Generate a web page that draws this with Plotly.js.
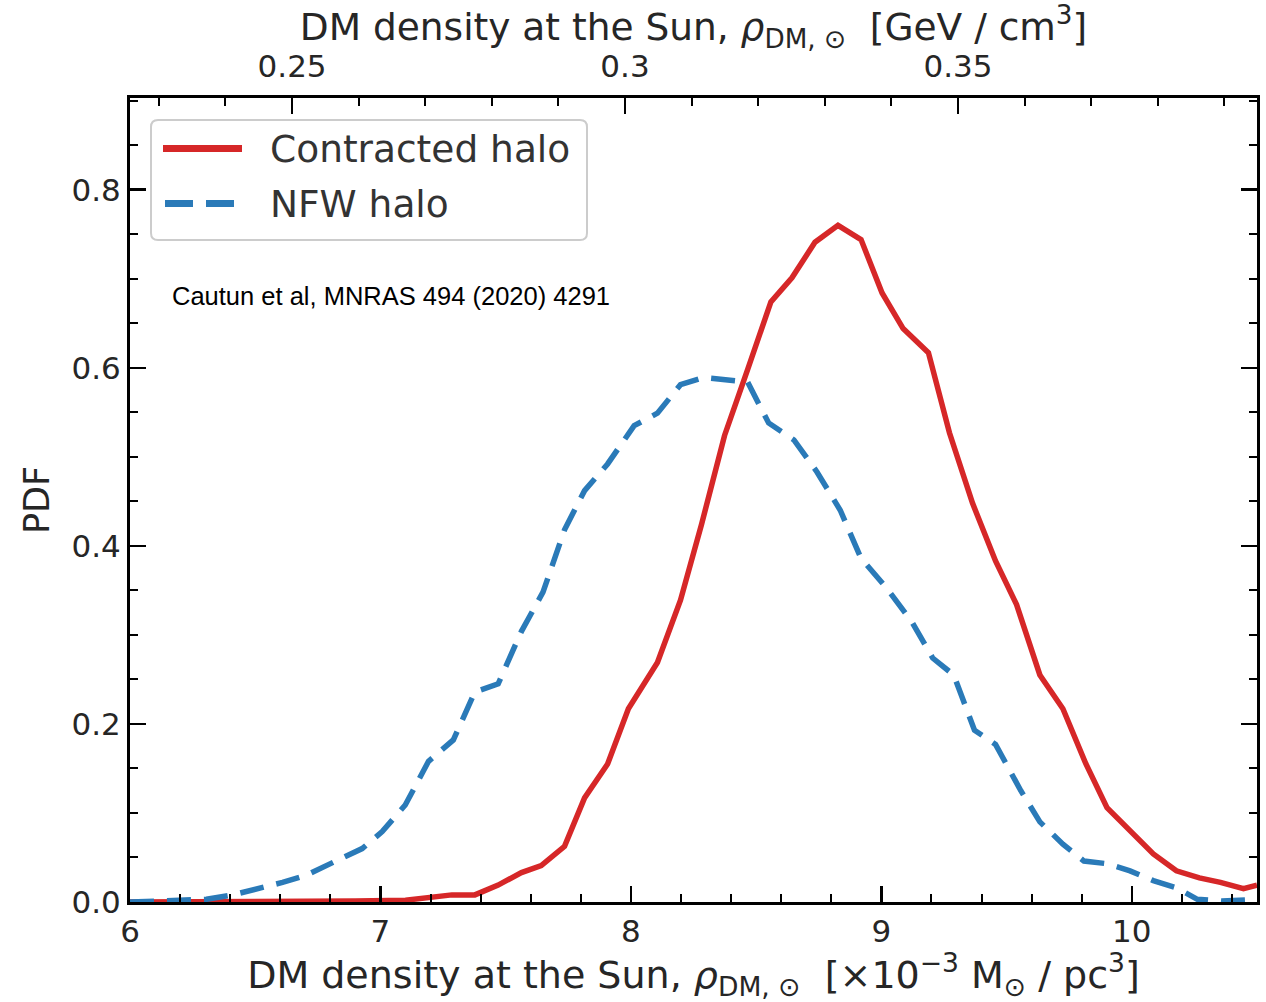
<!DOCTYPE html>
<html>
<head>
<meta charset="utf-8">
<script src="https://cdn.plot.ly/plotly-3.0.1.min.js"></script>
<style>html,body{margin:0;padding:0;background:#fff;}#chart{width:1266px;height:1002px;}</style>
</head>
<body>
<div id="chart"></div>
<script>
// ---- data ----
var contractedX = [6.00, 6.50, 6.90, 7.10, 7.20, 7.285, 7.377, 7.47, 7.563, 7.642, 7.735, 7.815, 7.907, 7.99, 8.106, 8.198, 8.282, 8.374, 8.466, 8.559, 8.643, 8.735, 8.827, 8.919, 9.003, 9.087, 9.188, 9.272, 9.364, 9.456, 9.54, 9.633, 9.725, 9.817, 9.901, 9.993, 10.086, 10.178, 10.27, 10.354, 10.446, 10.5];
var contractedPdf = [0.000, 0.000, 0.001, 0.002, 0.005, 0.008, 0.008, 0.019, 0.033, 0.041, 0.0625, 0.117, 0.155, 0.217, 0.269, 0.339, 0.424, 0.524, 0.598, 0.674, 0.701, 0.741, 0.760, 0.744, 0.684, 0.644, 0.617, 0.527, 0.448, 0.383, 0.334, 0.255, 0.217, 0.155, 0.106, 0.081, 0.054, 0.035, 0.027, 0.022, 0.015, 0.019];

var nfwX = [6.0, 6.2, 6.305, 6.41, 6.503, 6.609, 6.702, 6.795, 6.927, 7.007, 7.099, 7.192, 7.291, 7.377, 7.47, 7.563, 7.649, 7.735, 7.815, 7.907, 8.013, 8.106, 8.198, 8.29, 8.383, 8.466, 8.55, 8.651, 8.743, 8.836, 8.919, 9.02, 9.121, 9.205, 9.289, 9.372, 9.456, 9.557, 9.633, 9.725, 9.809, 9.901, 9.993, 10.086, 10.178, 10.262, 10.36, 10.5];
var nfwPdf = [0.000, 0.001, 0.003, 0.008, 0.014, 0.022, 0.030, 0.043, 0.060, 0.079, 0.109, 0.158, 0.182, 0.236, 0.245, 0.304, 0.348, 0.418, 0.462, 0.492, 0.535, 0.549, 0.581, 0.589, 0.587, 0.584, 0.538, 0.519, 0.483, 0.440, 0.386, 0.353, 0.315, 0.274, 0.255, 0.193, 0.177, 0.125, 0.090, 0.065, 0.046, 0.043, 0.035, 0.024, 0.016, 0.003, 0.001, 0.003];

var seriesNames = ['Contracted halo', 'NFW halo'];
var bottomTickVals = [6, 7, 8, 9, 10];
var bottomTickText = ['6', '7', '8', '9', '10'];
var topTickVals = [0.25, 0.3, 0.35];
var topTickText = ['0.25', '0.3', '0.35'];
var yTickVals = [0.0, 0.2, 0.4, 0.6, 0.8];
var yTickText = ['0.0', '0.2', '0.4', '0.6', '0.8'];
var citation = 'Cautun et al, MNRAS 494 (2020) 4291';

// unit conversion: 1e-3 Msun/pc^3 -> GeV/cm^3
var GEV_PER_UNIT = 0.03761;
var X_RANGE = [6, 10.5];

var RED = '#d62728', BLUE = '#2a7ab8', TXT = '#262626';
var FONT = 'DejaVu Sans, sans-serif';

var traces = [
  {x: contractedX, y: contractedPdf, name: seriesNames[0], type: 'scatter', mode: 'lines',
   line: {color: RED, width: 5.5}, xaxis: 'x', yaxis: 'y', showlegend: false, hoverinfo: 'skip'},
  {x: nfwX, y: nfwPdf, name: seriesNames[1], type: 'scatter', mode: 'lines',
   line: {color: BLUE, width: 5.5, dash: '24px,13px'}, xaxis: 'x', yaxis: 'y', showlegend: false, hoverinfo: 'skip'},
  // empty carrier trace so that the top (GeV/cm^3) axis is drawn
  {x: topTickVals, y: topTickVals.map(function(){ return null; }), type: 'scatter', mode: 'lines',
   xaxis: 'x2', yaxis: 'y', showlegend: false, hoverinfo: 'skip'}
];

// helpers for the hand-drawn legend (paper coordinates from pixels)
var L = 130, R = 1257, T = 98, B = 902;
function px(xp){ return (xp - L) / (R - L); }
function py(yp){ return (B - yp) / (B - T); }
function roundRect(x0, y0, x1, y1, r){
  var rx = r / (R - L), ry = r / (B - T);
  var a = px(x0), b = px(x1), c = py(y0), d = py(y1);
  return 'M' + (a + rx) + ',' + c + ' L' + (b - rx) + ',' + c + ' Q' + b + ',' + c + ' ' + b + ',' + (c - ry) +
         ' L' + b + ',' + (d + ry) + ' Q' + b + ',' + d + ' ' + (b - rx) + ',' + d +
         ' L' + (a + rx) + ',' + d + ' Q' + a + ',' + d + ' ' + a + ',' + (d + ry) +
         ' L' + a + ',' + (c - ry) + ' Q' + a + ',' + c + ' ' + (a + rx) + ',' + c + ' Z';
}

var layout = {
  width: 1266, height: 1002,
  margin: {l: L, r: 1266 - R, t: T, b: 1002 - B},
  paper_bgcolor: '#fff', plot_bgcolor: '#fff',
  font: {family: FONT, color: TXT, size: 30},
  showlegend: false,
  xaxis: {
    range: X_RANGE, showgrid: false, zeroline: false,
    showline: true, linecolor: '#000', linewidth: 3, mirror: false,
    tickmode: 'array', tickvals: bottomTickVals, ticktext: bottomTickText,
    ticks: 'inside', ticklen: 16, tickwidth: 2.5, tickcolor: '#000',
    minor: {tickmode: 'linear', tick0: 6, dtick: 0.2, ticks: 'inside', ticklen: 8, tickwidth: 2, tickcolor: '#000', showgrid: false},
    tickfont: {size: 31, color: TXT}, ticklabelstandoff: 0,
    title: {text: 'DM density at the Sun, <i>ρ</i><sub>DM, ⊙</sub>  [×10<sup>−3</sup> M<sub>⊙</sub> / pc<sup>3</sup>]',
            font: {size: 38, color: TXT}, standoff: 12}
  },
  xaxis2: {
    overlaying: 'x', side: 'top', anchor: 'y',
    range: [X_RANGE[0] * GEV_PER_UNIT, X_RANGE[1] * GEV_PER_UNIT],
    showgrid: false, zeroline: false,
    showline: true, linecolor: '#000', linewidth: 3,
    tickmode: 'array', tickvals: topTickVals, ticktext: topTickText,
    ticks: 'inside', ticklen: 16, tickwidth: 2.5, tickcolor: '#000',
    minor: {tickmode: 'linear', tick0: 0, dtick: 0.01, ticks: 'inside', ticklen: 8, tickwidth: 2, tickcolor: '#000', showgrid: false},
    tickfont: {size: 31, color: TXT}, ticklabelstandoff: 6,
    title: {text: 'DM density at the Sun, <i>ρ</i><sub>DM, ⊙</sub>  [GeV / cm<sup>3</sup>]',
            font: {size: 37.5, color: TXT}, standoff: 2}
  },
  yaxis: {
    range: [0, 0.903], showgrid: false, zeroline: false,
    showline: true, linecolor: '#000', linewidth: 3, mirror: 'ticks',
    tickmode: 'array', tickvals: yTickVals, ticktext: yTickText,
    ticks: 'inside', ticklen: 16, tickwidth: 2.5, tickcolor: '#000',
    minor: {tickmode: 'linear', tick0: 0, dtick: 0.05, ticks: 'inside', ticklen: 8, tickwidth: 2, tickcolor: '#000', showgrid: false},
    tickfont: {size: 31, color: TXT}, ticklabelstandoff: 0,
    title: {text: 'PDF', font: {size: 35, color: TXT}, standoff: 12}
  },
  shapes: [
    {type: 'path', xref: 'paper', yref: 'paper', path: roundRect(151, 120, 587, 240, 7),
     line: {color: '#cccccc', width: 2}, fillcolor: 'rgba(255,255,255,0.85)', layer: 'above'},
    {type: 'line', xref: 'paper', yref: 'paper', x0: px(163), x1: px(242), y0: py(148.5), y1: py(148.5),
     line: {color: RED, width: 7}, layer: 'above'},
    {type: 'line', xref: 'paper', yref: 'paper', x0: px(165), x1: px(238), y0: py(203.5), y1: py(203.5),
     line: {color: BLUE, width: 7, dash: '28px,13px'}, layer: 'above'}
  ],
  annotations: [
    {xref: 'paper', yref: 'paper', x: px(268), y: py(149), xanchor: 'left', yanchor: 'middle',
     text: seriesNames[0], showarrow: false, font: {size: 37.5, color: '#333'}},
    {xref: 'paper', yref: 'paper', x: px(268), y: py(204), xanchor: 'left', yanchor: 'middle',
     text: seriesNames[1], showarrow: false, font: {size: 37.5, color: '#333'}},
    {xref: 'paper', yref: 'paper', x: px(170), y: py(296), xanchor: 'left', yanchor: 'middle',
     text: citation, showarrow: false, font: {family: 'Liberation Sans, Arial, sans-serif', size: 25.5, color: '#000'}}
  ]
};

Plotly.newPlot('chart', traces, layout, {staticPlot: true, displayModeBar: false});
</script>
</body>
</html>
